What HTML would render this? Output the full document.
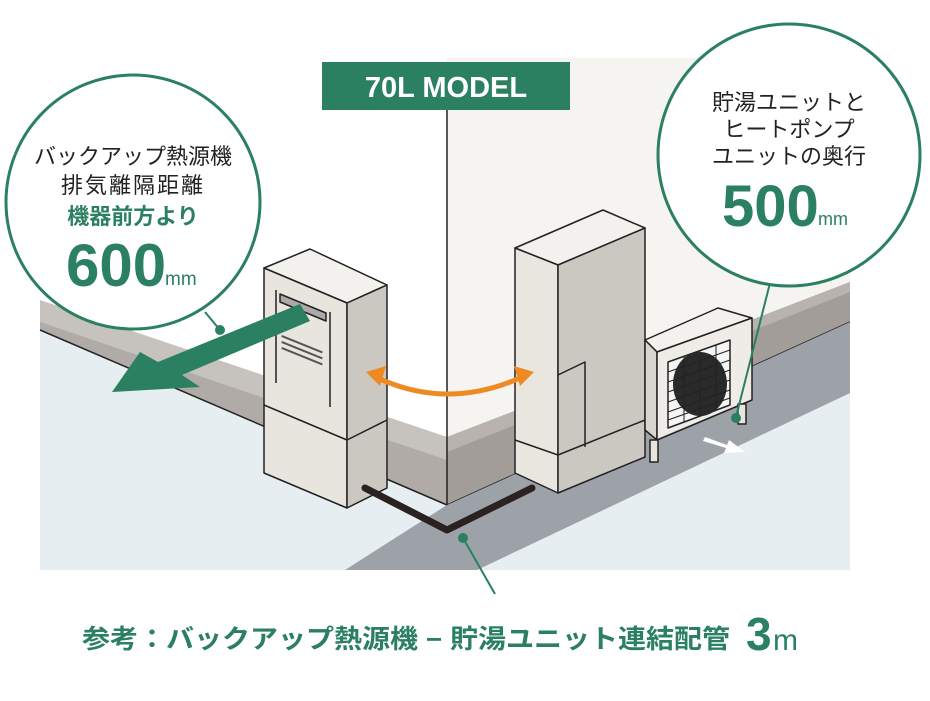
<!DOCTYPE html>
<html><head><meta charset="utf-8"><style>
html,body{margin:0;padding:0;background:#fff;}
svg{display:block;}
text{font-family:"Liberation Sans","Noto Sans CJK JP",sans-serif;}
</style></head><body>
<svg width="930" height="701" viewBox="0 0 930 701" xmlns="http://www.w3.org/2000/svg">
<rect width="930" height="701" fill="#fff"/>
<!-- right wall -->
<rect x="447" y="58" width="403" height="400" fill="#f6f4f0"/>
<!-- floor light -->
<polygon points="40,300 447,437 850,282 850,570 40,570" fill="#e6eef1"/>
<!-- left plinth top band -->
<polygon points="40,300 447,437 447,505 40,330" fill="#c6c2bd"/>
<polygon points="40,322 447,460 447,505 40,330" fill="#b0aba6"/>
<line x1="40" y1="330" x2="447" y2="505" stroke="#222" stroke-width="1.5"/>
<!-- right plinth -->
<polygon points="447,437 850,282 850,322 447,505" fill="#a29d98"/>
<polygon points="447,437 850,282 850,292 447,452" fill="#b8b3ae"/>
<line x1="447" y1="505" x2="850" y2="322" stroke="#222" stroke-width="1.5"/>
<!-- gray walkway -->
<polygon points="345,570 447,505 850,322 850,393 477,570" fill="#9da2a9"/>
<!-- corner line -->
<line x1="447" y1="110" x2="447" y2="505" stroke="#222" stroke-width="1.5"/>
<!-- label -->
<rect x="322" y="62" width="248" height="48" fill="#2a8060"/>
<text x="446" y="97" font-size="29" font-weight="bold" fill="#fff" text-anchor="middle">70L MODEL</text>

<!-- left unit -->
<g stroke="#222" stroke-width="1.5" stroke-linejoin="round">
<polygon points="264,268 310,249 387,285 347,303" fill="#f3f1ed"/>
<polygon points="264,268 347,303 347,508 264,473" fill="#e8e5df"/>
<polygon points="347,303 387,285 387,488 347,508" fill="#cbc7c1"/>
<polyline points="264,405 347,440 387,420" fill="none"/>
<line x1="276" y1="290" x2="276" y2="383"/>
<line x1="330" y1="312" x2="330" y2="407"/>
<polygon points="280,294 326,313 326,321 280,302" fill="#aaa"/>
</g>
<g fill="#555">
<rect x="282" y="335" width="44" height="2" transform="rotate(22 282 335)"/>
<rect x="282" y="341" width="44" height="2" transform="rotate(22 282 341)"/>
<rect x="282" y="347" width="44" height="2" transform="rotate(22 282 347)"/>
</g>
<!-- green arrow -->
<polygon points="300,304 310,321 182,375 200,387 112,392 140,352 158,362" fill="#2a8060"/>

<!-- tank unit -->
<g stroke="#222" stroke-width="1.5" stroke-linejoin="round">
<polygon points="515,248 603,210 645,228 558,265" fill="#f3f1ed"/>
<polygon points="515,248 558,265 558,493 515,473" fill="#e9e6e0"/>
<polygon points="558,265 645,228 645,457 558,493" fill="#cbc7c1"/>
<polyline points="515,440 558,455 645,420" fill="none"/>
<polyline points="558,375 585,362 585,447" fill="none"/>
</g>
<!-- heat pump -->
<g stroke="#222" stroke-width="1.5" stroke-linejoin="round">
<polygon points="645,340 718,308 752,318 657,352" fill="#f3f1ed"/>
<polygon points="645,340 657,352 657,440 645,430" fill="#d8d4ce"/>
<polygon points="657,352 752,318 752,400 657,440" fill="#efece7"/>
<rect x="650" y="440" width="8" height="22" fill="#e8e5df"/>
<rect x="738" y="404" width="8" height="20" fill="#e8e5df"/>
<polygon points="668,362 730,340 730,405 668,428" fill="#f5f5f5"/>
</g>
<ellipse cx="700" cy="384" rx="27" ry="32" fill="#2a2a2a"/>
<g stroke="#222" stroke-width="1">
<line x1="668" y1="372" x2="730" y2="350"/><line x1="668" y1="382" x2="730" y2="360"/>
<line x1="668" y1="392" x2="730" y2="370"/><line x1="668" y1="402" x2="730" y2="380"/>
<line x1="668" y1="412" x2="730" y2="390"/><line x1="668" y1="420" x2="730" y2="398"/>
<line x1="684" y1="356" x2="684" y2="422"/><line x1="700" y1="351" x2="700" y2="416"/><line x1="716" y1="345" x2="716" y2="410"/>
</g>
<polygon points="705,437 727,445 729,440 745,452 724,453 726,448 703,441" fill="#fff"/>

<!-- orange arrow -->
<path d="M378,378 Q447,410 520,378" fill="none" stroke="#ef8a22" stroke-width="5"/>
<polygon points="366,372 386,366 380,386" fill="#ef8a22"/>
<polygon points="534,372 514,366 520,386" fill="#ef8a22"/>

<!-- pipe -->
<polyline points="365,488 447,530 532,488" fill="none" stroke="#2a2220" stroke-width="7" stroke-linecap="round" stroke-linejoin="round"/>
<line x1="463" y1="538" x2="495" y2="594" stroke="#2a8060" stroke-width="2"/>
<circle cx="463" cy="538" r="5" fill="#2a8060"/>

<!-- left circle -->
<line x1="205" y1="312" x2="220" y2="330" stroke="#2a8060" stroke-width="2"/>
<circle cx="220" cy="330" r="5" fill="#2a8060"/>
<circle cx="133" cy="202" r="127" fill="#fff" stroke="#2a8060" stroke-width="3"/>
<text x="133" y="164" font-size="22" fill="#222" text-anchor="middle">バックアップ熱源機</text>
<text x="133" y="193" font-size="22" fill="#222" text-anchor="middle" letter-spacing="2">排気離隔距離</text>
<text x="133" y="224" font-size="22" font-weight="bold" fill="#2a8060" text-anchor="middle">機器前方より</text>
<text x="66" y="286" font-size="60" font-weight="bold" fill="#2a8060">600</text>
<text x="165" y="285" font-size="19" fill="#2a8060">mm</text>

<!-- right circle -->
<line x1="770" y1="283" x2="736" y2="417" stroke="#2a8060" stroke-width="2"/>
<circle cx="736" cy="418" r="5" fill="#2a8060"/>
<circle cx="789" cy="155" r="131" fill="#fff" stroke="#2a8060" stroke-width="3"/>
<text x="789" y="110" font-size="22" fill="#222" text-anchor="middle">貯湯ユニットと</text>
<text x="789" y="137" font-size="22" fill="#222" text-anchor="middle">ヒートポンプ</text>
<text x="789" y="164" font-size="22" fill="#222" text-anchor="middle">ユニットの奥行</text>
<text x="722" y="226" font-size="58" font-weight="bold" fill="#2a8060">500</text>
<text x="818" y="225" font-size="18" fill="#2a8060">mm</text>

<!-- bottom text -->
<text x="82" y="648" font-size="26" font-weight="bold" fill="#2a8060" textLength="648" lengthAdjust="spacingAndGlyphs">参考：バックアップ熱源機 − 貯湯ユニット連結配管</text>
<text x="746" y="650" font-size="46" font-weight="bold" fill="#2a8060">3</text>
<text x="773" y="650" font-size="30" fill="#2a8060">m</text>
</svg>
</body></html>
